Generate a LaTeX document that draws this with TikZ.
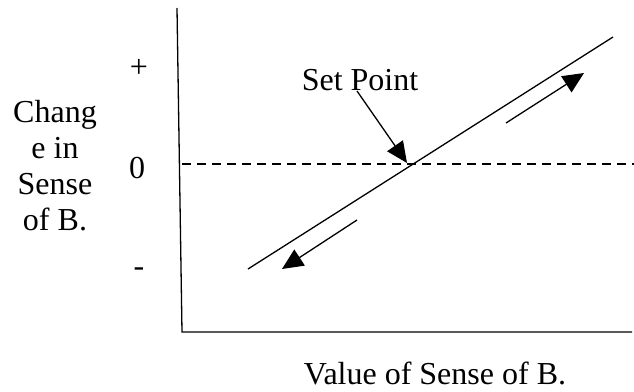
\documentclass[tikz,border=0pt]{standalone}
\usepackage{fontspec}
\setmainfont{Liberation Serif}
\usetikzlibrary{arrows.meta}

\begin{document}
\begin{tikzpicture}[
  x=1pt, y=-1pt, line width=1.3pt,
  lbl/.style={inner sep=0pt,font=\fontsize{32}{36}\selectfont},
  hint/.style={-{Triangle[length=21pt,width=19pt]}}
]
  \useasboundingbox (0,0) rectangle (634,391);
  % axes
  \coordinate (ytop) at (177,8);
  \coordinate (orig) at (182,332);
  \coordinate (xend) at (632,332);
  \draw (ytop) -- (orig) -- (xend);
  % zero line
  \coordinate (z0) at (182,164);
  \coordinate (z1) at (634,164);
  \draw[dashed,dash pattern=on 9pt off 6pt] (z0) -- (z1);
  % response line
  \coordinate (d0) at (248,269);
  \coordinate (d1) at (613,37);
  \draw (d0) -- (d1);
  \coordinate (sp) at (407,163);
  % direction arrows
  \coordinate (up0) at (506,123);
  \coordinate (up1) at (584,73);
  \draw[hint] (up0) -- (up1);
  \coordinate (dn0) at (357,220);
  \coordinate (dn1) at (282,269);
  \draw[hint] (dn0) -- (dn1);
  % labels
  \node[lbl,anchor=base] (setpt) at (360,90) {Set Point};
  \coordinate (spfrom) at (357,91);
  \draw[hint] (spfrom) -- (sp);
  \node[lbl] (plus) at (139,68) {+};
  \node[lbl] (zero) at (137,168) {0};
  \node[lbl] (minus) at (139,272) {-};
  \node[lbl,anchor=base] (chg1) at (55,122) {Chang};
  \node[lbl,anchor=base] (chg2) at (55,158) {e in};
  \node[lbl,anchor=base] (chg3) at (55,194) {Sense};
  \node[lbl,anchor=base] (chg4) at (55,230) {of B.};
  \node[lbl,anchor=base] (xlabel) at (435,384) {Value of Sense of B.};
\end{tikzpicture}
\end{document}
